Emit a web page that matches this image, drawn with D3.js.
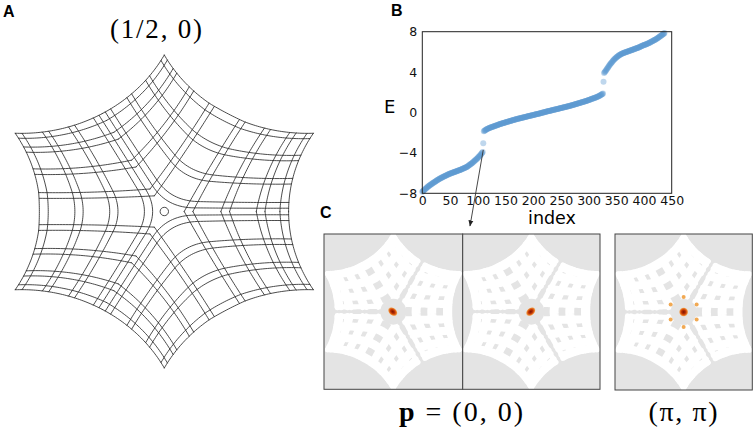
<!DOCTYPE html>
<html><head><meta charset="utf-8">
<script src="https://cdn.jsdelivr.net/npm/d3@7"></script>
<style>body{margin:0;background:#fff}svg{display:block}</style>
</head><body>
<svg id="fig" width="754" height="435"></svg>
<script>
// ---------------- DATA (panel B) ----------------
const xTicks = [0,50,100,150,200,250,300,350,400,450];
const yTicks = [-8,-4,0,4,8];
const lowerStart = 0;
const lowerBand = [
-7.85,-7.80,-7.75,-7.70,-7.65,-7.60,-7.55,-7.50,-7.45,-7.40,
-7.35,-7.31,-7.27,-7.23,-7.19,-7.15,-7.11,-7.07,-7.03,-6.99,
-6.95,-6.92,-6.88,-6.85,-6.81,-6.78,-6.74,-6.71,-6.67,-6.64,
-6.60,-6.57,-6.54,-6.51,-6.48,-6.45,-6.42,-6.39,-6.36,-6.33,
-6.30,-6.28,-6.25,-6.23,-6.20,-6.18,-6.15,-6.13,-6.10,-6.08,
-6.05,-6.03,-6.01,-5.99,-5.97,-5.95,-5.93,-5.91,-5.89,-5.87,
-5.85,-5.83,-5.81,-5.79,-5.77,-5.75,-5.73,-5.71,-5.69,-5.67,
-5.65,-5.63,-5.60,-5.58,-5.55,-5.53,-5.50,-5.48,-5.45,-5.43,
-5.40,-5.36,-5.32,-5.28,-5.24,-5.20,-5.16,-5.12,-5.08,-5.04,
-5.00,-4.95,-4.90,-4.85,-4.80,-4.75,-4.70,-4.65,-4.60,-4.55,
-4.50,-4.44,-4.38,-4.32,-4.26,-4.20,-4.13,-4.06,-3.98,-3.90];
const inGapLow = {index:110, E:-3.05};
const midStart = 111;
const midBand = [
-1.85,-1.81,-1.77,-1.73,-1.70,-1.67,-1.64,-1.61,-1.58,-1.55,
-1.53,-1.51,-1.49,-1.47,-1.45,-1.43,-1.41,-1.39,-1.37,-1.35,
-1.33,-1.31,-1.29,-1.27,-1.25,-1.23,-1.21,-1.19,-1.17,-1.15,
-1.13,-1.11,-1.10,-1.08,-1.06,-1.05,-1.03,-1.01,-1.00,-0.98,
-0.96,-0.95,-0.93,-0.91,-0.90,-0.88,-0.86,-0.85,-0.83,-0.82,
-0.80,-0.78,-0.77,-0.75,-0.74,-0.72,-0.70,-0.69,-0.67,-0.66,
-0.65,-0.63,-0.62,-0.60,-0.59,-0.57,-0.56,-0.55,-0.53,-0.52,
-0.51,-0.49,-0.48,-0.46,-0.45,-0.44,-0.42,-0.41,-0.39,-0.38,
-0.37,-0.35,-0.34,-0.33,-0.31,-0.30,-0.29,-0.27,-0.26,-0.25,
-0.24,-0.22,-0.21,-0.20,-0.18,-0.17,-0.16,-0.14,-0.13,-0.12,
-0.10,-0.09,-0.07,-0.06,-0.04,-0.03,-0.01,0.00,
0.01,0.03,0.04,0.06,0.07,0.09,0.10,0.12,
0.13,0.14,0.16,0.17,0.18,0.20,0.21,0.22,0.24,0.25,
0.26,0.27,0.29,0.30,0.31,0.33,0.34,0.35,0.37,0.38,
0.39,0.41,0.42,0.44,0.45,0.46,0.48,0.49,0.51,0.52,
0.53,0.55,0.56,0.57,0.59,0.60,0.62,0.63,0.65,0.66,
0.67,0.69,0.70,0.72,0.74,0.75,0.77,0.78,0.80,0.82,
0.83,0.85,0.86,0.88,0.90,0.91,0.93,0.95,0.96,0.98,
1.00,1.01,1.03,1.05,1.06,1.08,1.10,1.11,1.13,1.15,
1.17,1.19,1.21,1.23,1.25,1.27,1.29,1.31,1.33,1.35,
1.37,1.39,1.41,1.43,1.45,1.47,1.49,1.51,1.53,1.55,
1.58,1.61,1.64,1.67,1.70,1.73,1.76,1.80,1.84,1.88];
const inGapHigh = {index:327, E:3.05};
const upperStart = 328;
const upperBand = [
3.90,3.98,4.06,4.14,4.22,4.30,4.38,4.46,4.54,4.62,
4.70,4.77,4.84,4.91,4.98,5.05,5.12,5.18,5.24,5.30,
5.35,5.40,5.45,5.50,5.54,5.58,5.62,5.66,5.70,5.73,
5.76,5.79,5.82,5.85,5.87,5.89,5.91,5.93,5.95,5.97,
5.99,6.01,6.03,6.05,6.07,6.09,6.11,6.13,6.15,6.17,
6.19,6.21,6.23,6.25,6.27,6.29,6.31,6.33,6.35,6.37,
6.39,6.41,6.43,6.45,6.47,6.50,6.53,6.56,6.59,6.62,
6.64,6.66,6.68,6.70,6.72,6.74,6.76,6.78,6.80,6.82,
6.85,6.88,6.91,6.94,6.97,7.00,7.03,7.06,7.09,7.12,
7.15,7.18,7.21,7.24,7.27,7.30,7.34,7.38,7.42,7.46,
7.50,7.54,7.58,7.62,7.66,7.70,7.74,7.78,7.82,7.86];

// panel C labels / states
const cLabels = ["p = (0, 0)", "(π, π)"];
const satelliteAngles = [30,90,150,210,270,330];

// ---------------- FIGURE ----------------
const svg = d3.select("#fig");
const defs = svg.append("defs");

const letter = (t,x,y)=>svg.append("text").attr("x",x).attr("y",y).text(t)
  .attr("font-family","Liberation Sans, Arial, sans-serif").attr("font-weight","bold").attr("font-size",16);
letter("A",3,17); letter("B",391,16); letter("C",320,218);

// ---------- Panel B ----------
const x = d3.scaleLinear().domain([0,450]).range([422.3,671.7]);
const y = d3.scaleLinear().domain([-8,8]).range([193.3,31.7]);
const pts = [];
lowerBand.forEach((e,i)=>pts.push({index:lowerStart+i,E:e}));
pts.push(inGapLow);
midBand.forEach((e,i)=>pts.push({index:midStart+i,E:e}));
pts.push(inGapHigh);
upperBand.forEach((e,i)=>pts.push({index:upperStart+i,E:e}));

const gB = svg.append("g");
gB.selectAll("circle").data(pts).join("circle")
  .attr("cx",d=>x(d.index)).attr("cy",d=>y(d.E)).attr("r",3)
  .attr("fill","rgb(95,155,210)").attr("fill-opacity",0.4);
gB.append("rect").attr("x",x(0)).attr("y",y(8)).attr("width",x(450)-x(0)).attr("height",y(-8)-y(8))
  .attr("fill","none").attr("stroke","#222").attr("stroke-width",1);
const ax = gB.append("g").attr("transform",`translate(0,${y(-8)})`)
  .call(d3.axisBottom(x).tickValues(xTicks).tickSize(0).tickPadding(2.5));
const ay = gB.append("g").attr("transform",`translate(${x(0)},0)`)
  .call(d3.axisLeft(y).tickValues(yTicks).tickSize(0).tickPadding(5));
[ax,ay].forEach(a=>{a.select(".domain").remove();
  a.selectAll("text").attr("font-family","DejaVu Sans, sans-serif").attr("font-size",12.5).attr("fill","#111");});
gB.append("text").attr("x",552).attr("y",224).attr("text-anchor","middle").text("index")
  .attr("font-family","DejaVu Sans, sans-serif").attr("font-size",17.5);
gB.append("text").attr("x",384).attr("y",113).text("E")
  .attr("font-family","DejaVu Sans, sans-serif").attr("font-size",18);
defs.append("marker").attr("id","ah").attr("viewBox","0 0 10 10").attr("refX",9).attr("refY",5)
  .attr("markerWidth",7).attr("markerHeight",7).attr("orient","auto")
  .append("path").attr("d","M0,1 L10,5 L0,9 Z").attr("fill","#222");
gB.append("line").attr("x1",x(inGapLow.index)).attr("y1",y(-3.7)).attr("x2",470).attr("y2",226)
  .attr("stroke","#333").attr("stroke-width",0.9).attr("marker-end","url(#ah)");

// ---------- star lattice geometry ----------
const deg = Math.PI/180;
const N = 40;
function starLines(R, r, seams, seamList, openL, trim){
  const P = (rad,a)=>[rad*Math.cos(a*deg), rad*Math.sin(a*deg)];
  const c = (R*R - r*r)/(2*R*Math.cos(30*deg) - 2*r), rho = c - r;
  function arc(alpha, tip){
    const oc=P(c,alpha), M=P(r,alpha), T=P(R,tip);
    const aM=Math.atan2(M[1]-oc[1],M[0]-oc[0]);
    let d=Math.atan2(T[1]-oc[1],T[0]-oc[0])-aM;
    while(d>Math.PI)d-=2*Math.PI; while(d<-Math.PI)d+=2*Math.PI;
    return u=>[oc[0]+rho*Math.cos(aM+d*u), oc[1]+rho*Math.sin(aM+d*u)];
  }
  const norm = a=>((a%360)+360)%360;
  const isSeam = a=>seams.includes(norm(a));
  const tips=[30,90,150,210,270,330];
  const patch = {};
  tips.forEach(th=>{
    const T=P(R,th), eS1=arc(th-30,th), eT1=arc(th+30,th);
    patch[th]=(s,t)=>{const a=eT1(s), b=eS1(t);
      return [t*a[0]+s*b[0]-s*t*T[0], t*a[1]+s*b[1]-s*t*T[1]];};
  });
  const listFor = a=>isSeam(a)?seamList:openL;
  const lines=[];
  function roundKink(p, j, k){
    const A=p[j-k], J=p[j], B=p[j+k], out=p.slice(0,j-k);
    for(let i=0;i<=2*k;i++){const u=i/(2*k), v=1-u;
      out.push([v*v*A[0]+2*u*v*J[0]+u*u*B[0], v*v*A[1]+2*u*v*J[1]+u*u*B[1]]);}
    return out.concat(p.slice(j+k+1));
  }
  const span = k=>trim+(1-trim)*k/N;
  tips.forEach(th=>{
    const nb = norm(th+60);
    listFor(th-30).forEach(t=>{
      if(!isSeam(th+30)){
        const own = d3.range(0,N+1).map(k=>patch[th](k/N,t));
        const nxt = d3.range(0,N+1).map(k=>patch[nb](t,k/N));
        const merged = own.slice().reverse().concat(nxt.slice(1));
        lines.push(roundKink(merged, N, 9));
      } else lines.push(d3.range(0,N+1).map(k=>patch[th](span(k),t)));
    });
    if(isSeam(th-30)) listFor(th+30).forEach(s=>lines.push(d3.range(0,N+1).map(k=>patch[th](s,span(k)))));
  });
  return lines;
}
function drawStar(g, cx, cy, sx, sy, lines, stroke, width){
  const ln = d3.line().x(p=>cx+sx*p[0]).y(p=>cy-sy*p[1]);
  g.selectAll(null).data(lines).join("path").attr("d",ln)
    .attr("fill","none").attr("stroke",stroke).attr("stroke-width",width)
    .attr("stroke-linecap","round").attr("stroke-linejoin","round");
}
const seamListA = [0.04,0.11,0.335,0.405,0.63,0.70,0.925,1.0];
const openList  = [0.16,0.23,0.455,0.525,0.74,0.81,0.93,1.0];

// ---------- Panel A ----------
const gA = svg.append("g");
const linesA = starLines(156.5, 113, [0,120,240], seamListA, openList, 0);
drawStar(gA, 164.3, 211.5, 1.1, 1, linesA, "#2a2a2a", 0.85);
gA.append("circle").attr("cx",164.3).attr("cy",211.5).attr("r",4.2)
  .attr("fill","#fff").attr("stroke","#2a2a2a").attr("stroke-width",0.85);
gA.append("text").attr("x",156).attr("y",38).attr("text-anchor","middle")
  .attr("font-family","Liberation Serif, Times New Roman, serif").attr("font-size",27)
  .attr("textLength",92).text("(1/2, 0)");

// ---------- Panel C ----------
const grad = defs.append("radialGradient").attr("id","blob");
[[0,"#7a1400",1],[0.45,"#c23505",1],[0.75,"#ec7a1e",0.95],[1,"#f5a54a",0]].forEach(s=>
  grad.append("stop").attr("offset",s[0]).attr("stop-color",s[1]).attr("stop-opacity",s[2]));
const seamListC = [0.12,0.335,0.405,0.63,0.70,0.925,1.0];
const linesC = starLines(76, 56, [60,180,300], seamListC, openList, 0.10);
const squares = [
  {x:324, y:234, w:138.7, h:155.3, kind:"a"},
  {x:462.7, y:234, w:137.3, h:155.3, kind:"b"},
  {x:615, y:234, w:137.3, h:156, kind:"c"}];
squares.forEach((sq,i)=>{
  const g = svg.append("g");
  defs.append("clipPath").attr("id","cl"+i).append("rect")
    .attr("x",sq.x).attr("y",sq.y).attr("width",sq.w).attr("height",sq.h);
  g.append("rect").attr("x",sq.x).attr("y",sq.y).attr("width",sq.w).attr("height",sq.h).attr("fill","#e4e4e4");
  const cx = sq.x+sq.w/2, cy = sq.y+sq.h/2;
  const gi = g.append("g").attr("clip-path",`url(#cl${i})`);
  drawStar(gi, cx, cy, 1, 1, linesC, "#fff", 5.2);
  gi.append("circle").attr("cx",cx).attr("cy",cy).attr("r",13).attr("fill","#e4e4e4");
  if(sq.kind==="c"){
    satelliteAngles.forEach(a=>gi.append("circle")
      .attr("cx",cx+15*Math.cos(a*deg)).attr("cy",cy-15*Math.sin(a*deg)).attr("r",2)
      .attr("fill","#f0a040").attr("fill-opacity",0.9));
    gi.append("circle").attr("cx",cx).attr("cy",cy).attr("r",4.8).attr("fill","url(#blob)");
  } else {
    const rot = sq.kind==="a"?40:-40;
    gi.append("ellipse").attr("cx",cx-0.6).attr("cy",cy).attr("rx",5.6).attr("ry",4)
      .attr("transform",`rotate(${rot},${cx-0.6},${cy})`).attr("fill","url(#blob)");
  }
  g.append("rect").attr("x",sq.x).attr("y",sq.y).attr("width",sq.w).attr("height",sq.h)
    .attr("fill","none").attr("stroke","#444").attr("stroke-width",1);
});
const lab1 = svg.append("text").attr("x",461).attr("y",421).attr("text-anchor","middle")
  .attr("font-family","Liberation Serif, Times New Roman, serif").attr("font-size",28)
  .attr("textLength",124);
lab1.append("tspan").attr("font-weight","bold").text("p");
lab1.append("tspan").text(cLabels[0].slice(1));
svg.append("text").attr("x",683).attr("y",421).attr("text-anchor","middle")
  .attr("font-family","Liberation Serif, Times New Roman, serif").attr("font-size",28)
  .attr("textLength",69).text(cLabels[1]);
</script>
</body></html>
